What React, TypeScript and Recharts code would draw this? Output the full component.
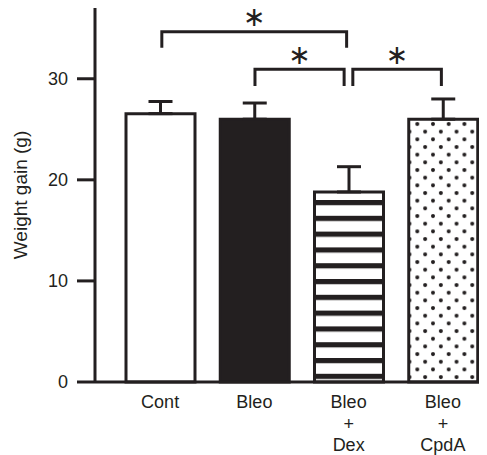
import { BarChart, Bar, XAxis, YAxis, ErrorBar, ReferenceLine, Cell } from 'recharts'

const INK = '#231f20'
const FONT = "'Liberation Sans', Arial, Helvetica, sans-serif"

const groups = ['Cont', 'Bleo', 'Bleo\n+\nDex', 'Bleo\n+\nCpdA']
const weightGain = [26.55, 26.0, 18.8, 26.0]
const semUp = [1.2, 1.6, 2.5, 2.0]
const yTicks = [0, 10, 20, 30]

// significance brackets (height in g)
const sigFrom = ['Cont', 'Bleo', 'Bleo\n+\nDex']
const sigTo = ['Bleo\n+\nDex', 'Bleo\n+\nDex', 'Bleo\n+\nCpdA']
const sigLevel = [34.65, 30.94, 30.94]

const data = groups.map((g, i) => ({ group: g, gain: weightGain[i], err: [0, semUp[i]] }))

function GroupTick({ x, y, payload }: any) {
  const lines = String(payload.value).split('\n')
  return (
    <g transform={`translate(${x},${y})`}>
      {lines.map((l, i) => (
        <text key={i} x={0} y={26 + i * 21.5} textAnchor="middle" fill={INK} fontSize={18} fontFamily={FONT}>
          {l}
        </text>
      ))}
    </g>
  )
}

function bracket(dxLeft: number, dxRight: number, leg: number) {
  return (props: any) => {
    const { x1, y1, x2 } = props
    const a = x1 + dxLeft
    const b = x2 + dxRight
    return (
      <g>
        <path d={`M${a},${y1 + leg}V${y1}H${b}V${y1 + leg}`} fill="none" stroke={INK} strokeWidth={3} />
        <text
          x={(a + b) / 2}
          y={y1 - 15}
          textAnchor="middle"
          dominantBaseline="central"
          fill={INK}
          fontSize={27}
          fontFamily="'DejaVu Sans'"
        >
          ∗
        </text>
      </g>
    )
  }
}

const fills = ['#ffffff', INK, 'url(#stripes)', 'url(#dots)']
const shifts = [
  [1.7, -2],
  [0.6, -4.5],
  [4.2, -1.5],
]
const legs = [16, 16.7, 16.7]

export default function App() {
  return (
    <div style={{ width: 487, height: 455, overflow: 'hidden', margin: '-8px 0 0 -8px' }}>
      <BarChart width={490} height={455} data={data} margin={{ top: 8, right: 0, bottom: 0, left: 8 }} barSize={69}>
        <defs>
          <pattern id="stripes" patternUnits="userSpaceOnUse" x={0} y={10.4} width={20} height={15.8}>
            <rect x={0} y={0} width={20} height={15.8} fill="#ffffff" />
            <rect x={0} y={0} width={20} height={5.2} fill={INK} />
          </pattern>
          <pattern id="dots" patternUnits="userSpaceOnUse" x={5.2} y={12.7} width={15.7} height={15.34}>
            <rect x={0} y={0} width={15.7} height={15.34} fill="#ffffff" />
            <circle cx={3.9} cy={3.9} r={2} fill={INK} />
            <circle cx={11.75} cy={11.57} r={2} fill={INK} />
          </pattern>
        </defs>
        <XAxis
          dataKey="group"
          height={73}
          padding={{ left: 18, right: 0 }}
          tickLine={false}
          tickSize={0}
          tickMargin={0}
          axisLine={{ stroke: INK, strokeWidth: 3 }}
          tick={<GroupTick />}
          interval={0}
        />
        <YAxis
          width={87}
          domain={[0, 37]}
          ticks={yTicks}
          tickSize={18}
          tickMargin={9}
          axisLine={{ stroke: INK, strokeWidth: 3 }}
          tickLine={{ stroke: INK, strokeWidth: 3 }}
          tick={{ fill: INK, fontSize: 18, fontFamily: FONT }}
          label={{
            value: 'Weight gain (g)',
            angle: -90,
            position: 'insideLeft',
            offset: 12,
            fill: INK,
            fontSize: 19,
            fontFamily: FONT,
            style: { textAnchor: 'middle' },
          }}
        />
        <Bar dataKey="gain" stroke={INK} strokeWidth={3} isAnimationActive={false}>
          {data.map((d, i) => (
            <Cell key={d.group} fill={fills[i]} />
          ))}
          <ErrorBar dataKey="err" direction="y" width={12} stroke={INK} strokeWidth={3} />
        </Bar>
        {sigLevel.map((lvl, i) => (
          <ReferenceLine
            key={i}
            segment={[
              { x: sigFrom[i], y: lvl },
              { x: sigTo[i], y: lvl },
            ]}
            ifOverflow="visible"
            shape={bracket(shifts[i][0], shifts[i][1], legs[i])}
          />
        ))}
      </BarChart>
    </div>
  )
}
